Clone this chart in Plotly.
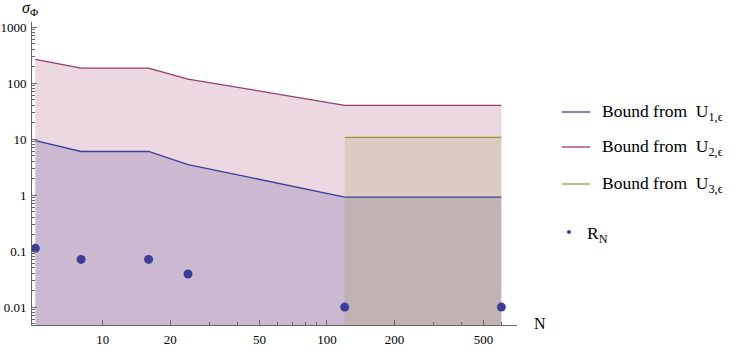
import plotly.graph_objects as go

# ---- data ----
N = [5, 8, 16, 24, 120, 600]
U1_bound = [9.4, 6.0, 6.0, 3.5, 0.92, 0.92]
U2_bound = [265, 185, 185, 118, 40, 40]
N3 = [120, 600]
U3_bound = [10.7, 10.7]
R_N = [0.112, 0.071, 0.071, 0.039, 0.01, 0.01]

x_ticks = [10, 20, 50, 100, 200, 500]
x_ticktext = ["10", "20", "50", "100", "200", "500"]
y_ticks = [0.01, 0.1, 1, 10, 100, 1000]
y_ticktext = ["0.01", "0.1", "1", "10", "100", "1000"]

legend_names = ["Bound from\u00a0 U<sub>1,\u03f5</sub>",
                "Bound from\u00a0 U<sub>2,\u03f5</sub>",
                "Bound from\u00a0 U<sub>3,\u03f5</sub>"]

C1 = (61, 61, 153)
C2 = (153, 61, 107)
C3 = (153, 153, 61)
def rgb(c): return "rgb(%d,%d,%d)" % c
def rgba(c, a): return "rgba(%d,%d,%d,%g)" % (c + (a,))

FONT = "Liberation Serif"

fig = go.Figure()
series = [(N, U1_bound, C1), (N, U2_bound, C2), (N3, U3_bound, C3)]
# fills
for xs, ys, c in series:
    fig.add_trace(go.Scatter(x=xs, y=ys, mode="lines", line=dict(width=0, color=rgba(c, 0)),
                             fill="tozeroy", fillcolor=rgba(c, 0.2), showlegend=False,
                             hoverinfo="skip"))
# lines
for xs, ys, c in series:
    fig.add_trace(go.Scatter(x=xs, y=ys, mode="lines", line=dict(width=1.3, color=rgb(c)),
                             showlegend=False))
# points
fig.add_trace(go.Scatter(x=N, y=R_N, mode="markers",
                         marker=dict(size=9, color=rgb(C1)), showlegend=False))

L, R, T, B = 32, 230, 22, 24
fig.update_layout(
    width=747, height=349,
    margin=dict(l=L, r=R, t=T, b=B, autoexpand=False),
    paper_bgcolor="white", plot_bgcolor="white",
    font=dict(family=FONT, size=13, color="black"),
    showlegend=False,
)
axis_common = dict(showgrid=False, zeroline=False, showline=True, linecolor="#666666",
                   linewidth=1, ticks="inside", tickcolor="#666666", ticklen=5, tickwidth=1,
                   automargin=False, ticklabelstandoff=2,
                   tickfont=dict(family=FONT, size=13, color="black"))
fig.update_xaxes(type="log", range=[0.684, 2.848], tickvals=x_ticks, ticktext=x_ticktext,
                 minor=dict(ticks="inside", ticklen=3, tickcolor="#666666",
                            tickvals=[30, 40, 60, 70, 80, 90, 300, 400, 600, 700]),
                 **axis_common)
minor_y = [m * 10 ** e for e in range(-3, 3) for m in range(2, 10)]
fig.update_yaxes(type="log", range=[-2.32, 3.09], tickvals=y_ticks, ticktext=y_ticktext,
                 minor=dict(ticks="inside", ticklen=3, tickcolor="#666666", tickvals=minor_y),
                 **axis_common)

# axis labels
fig.add_annotation(text="<i>\u03c3</i><sub>\u03a6</sub>", xref="paper", yref="paper",
                   x=0, y=1, xanchor="center", yanchor="bottom", xshift=-2, yshift=2,
                   showarrow=False, font=dict(family=FONT, size=16))
fig.add_annotation(text="N", xref="paper", yref="paper", x=1, y=0, xanchor="left",
                   yanchor="middle", xshift=15, yshift=2, showarrow=False,
                   font=dict(family=FONT, size=16))

# manual legend
def px_x(p): return (p - L) / (747 - L - R)
def px_y(p): return (349 - B - p) / (349 - T - B)
for i, (name, c) in enumerate(zip(legend_names, [C1, C2, C3])):
    yy = [112, 147, 184][i]
    fig.add_shape(type="line", xref="paper", yref="paper", x0=px_x(562), x1=px_x(590),
                  y0=px_y(yy), y1=px_y(yy), line=dict(color=rgb(c), width=1.3))
    fig.add_annotation(text=name, xref="paper", yref="paper", x=px_x(600), y=px_y(yy),
                       xanchor="left", yanchor="middle", showarrow=False,
                       font=dict(family=FONT, size=17.5))
fig.add_shape(type="circle", xref="paper", yref="paper",
              x0=px_x(567), x1=px_x(571), y0=px_y(234), y1=px_y(230),
              fillcolor=rgb(C1), line=dict(width=0))
fig.add_annotation(text="R<sub>N</sub>", xref="paper", yref="paper", x=px_x(585), y=px_y(234),
                   xanchor="left", yanchor="middle", showarrow=False,
                   font=dict(family=FONT, size=17.5))

fig.write_html("out.html", config={"displayModeBar": False},
               post_script="document.body.style.margin='0';document.body.style.overflow='hidden';")
